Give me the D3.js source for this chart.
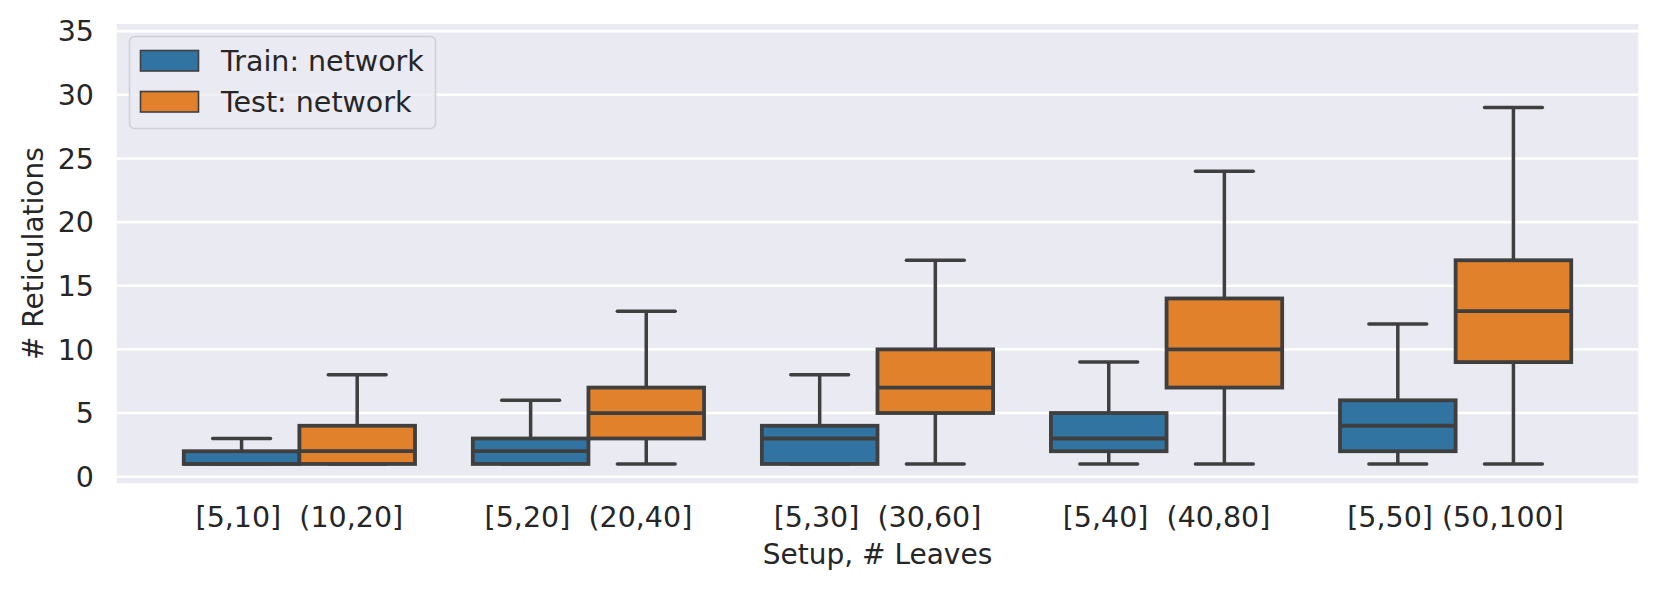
<!DOCTYPE html>
<html>
<head>
<meta charset="utf-8">
<script src="https://cdn.jsdelivr.net/npm/d3@7"></script>
<style>
  body { margin: 0; background: #fff; }
  svg { display: block; font-family: "DejaVu Sans", sans-serif; }
</style>
</head>
<body>
<script>
// groups on the x axis, two boxes each
var setups = ["[5,10]", "[5,20]", "[5,30]", "[5,40]", "[5,50]"];
var testLeaves = ["(10,20]", "(20,40]", "(30,60]", "(40,80]", "(50,100]"];
var series = ["Train: network", "Test: network"];
var colors = ["#3274a1", "#e1812c"];
// [lower whisker, q1, median, q3, upper whisker]
var trainStats = [
  [1, 1, 1, 2, 3],
  [1, 1, 2, 3, 6],
  [1, 1, 3, 4, 8],
  [1, 2, 3, 5, 9],
  [1, 2, 4, 6, 12]
];
var testStats = [
  [1, 1, 2, 4, 8],
  [1, 3, 5, 7, 13],
  [1, 5, 7, 10, 17],
  [1, 7, 10, 14, 24],
  [1, 9, 13, 17, 29]
];
var yTicks = [0, 5, 10, 15, 20, 25, 30, 35];

var W = 1660, H = 592;
var plot = { left: 116.7, right: 1638.3, top: 24, bottom: 483.3 };
var lineColor = "#3f3f3f";

var svg = d3.select("body").append("svg")
  .attr("width", W)
  .attr("height", H);

var x = d3.scaleLinear().domain([-0.632, 4.632]).range([plot.left, plot.right]);
var y = d3.scaleLinear().domain([-0.52, 35.56]).range([plot.bottom, plot.top]);

// background
svg.append("rect")
  .attr("x", plot.left).attr("y", plot.top)
  .attr("width", plot.right - plot.left)
  .attr("height", plot.bottom - plot.top)
  .attr("fill", "#eaeaf2");

// grid
svg.append("g").selectAll("line")
  .data(yTicks).enter().append("line")
  .attr("x1", plot.left).attr("x2", plot.right)
  .attr("y1", d => y(d)).attr("y2", d => y(d))
  .attr("stroke", "#fff").attr("stroke-width", 2.6);

// y axis labels
svg.append("g").selectAll("text")
  .data(yTicks).enter().append("text")
  .attr("x", 94).attr("y", d => y(d))
  .attr("dy", "0.36em")
  .attr("text-anchor", "end")
  .attr("font-size", 28.5)
  .attr("fill", "#262626")
  .text(d => d);

// x tick labels, one string per group
svg.append("g").selectAll("text")
  .data(setups).enter().append("text")
  .attr("x", (d, i) => x(i))
  .attr("y", 527.3)
  .attr("text-anchor", "middle")
  .attr("font-size", 28.5)
  .attr("fill", "#262626")
  .attr("xml:space", "preserve")
  .text((d, i) => d + (i === 4 ? " " : "  ") + testLeaves[i]);

svg.append("text")
  .attr("x", (plot.left + plot.right) / 2).attr("y", 564)
  .attr("text-anchor", "middle")
  .attr("font-size", 28)
  .attr("fill", "#262626")
  .text("Setup, # Leaves");

svg.append("text")
  .attr("transform", "translate(43," + ((plot.top + plot.bottom) / 2) + ") rotate(-90)")
  .attr("text-anchor", "middle")
  .attr("font-size", 28)
  .attr("fill", "#262626")
  .text("# Reticulations");

// boxes
var boxW = 0.4;
var allStats = [trainStats, testStats];
allStats.forEach(function(stats, s) {
  var g = svg.append("g");
  stats.forEach(function(d, i) {
    var cx = i + (s === 0 ? -0.2 : 0.2);
    var x0 = x(cx - boxW / 2), x1 = x(cx + boxW / 2);
    var c0 = x(cx - boxW / 4), c1 = x(cx + boxW / 4);
    // whiskers
    g.append("line")
      .attr("x1", x(cx)).attr("x2", x(cx))
      .attr("y1", y(d[0])).attr("y2", y(d[1]))
      .attr("stroke", lineColor).attr("stroke-width", 3.5);
    g.append("line")
      .attr("x1", x(cx)).attr("x2", x(cx))
      .attr("y1", y(d[3])).attr("y2", y(d[4]))
      .attr("stroke", lineColor).attr("stroke-width", 3.5);
    // caps
    [d[0], d[4]].forEach(function(v) {
      g.append("line")
        .attr("x1", c0).attr("x2", c1)
        .attr("y1", y(v)).attr("y2", y(v))
        .attr("stroke", lineColor).attr("stroke-width", 3.5)
        .attr("stroke-linecap", "round");
    });
    g.append("rect")
      .attr("x", x0).attr("y", y(d[3]))
      .attr("width", x1 - x0)
      .attr("height", y(d[1]) - y(d[3]))
      .attr("fill", colors[s])
      .attr("stroke", lineColor).attr("stroke-width", 3.8);
    g.append("line")
      .attr("x1", x0).attr("x2", x1)
      .attr("y1", y(d[2])).attr("y2", y(d[2]))
      .attr("stroke", lineColor).attr("stroke-width", 3.8);
  });
});

// legend
var lg = svg.append("g");
lg.append("rect")
  .attr("x", 129.5).attr("y", 36.5)
  .attr("width", 306).attr("height", 92)
  .attr("rx", 5)
  .attr("fill", "#eaeaf2").attr("fill-opacity", 0.8)
  .attr("stroke", "#d0d0d6").attr("stroke-width", 1.6);
series.forEach(function(name, i) {
  lg.append("rect")
    .attr("x", 140.5).attr("y", 50.5 + i * 41)
    .attr("width", 58).attr("height", 20.5)
    .attr("fill", colors[i])
    .attr("stroke", lineColor).attr("stroke-width", 1.6);
  lg.append("text")
    .attr("x", 221).attr("y", 60.5 + i * 41)
    .attr("dy", "0.36em")
    .attr("font-size", 28.5)
    .attr("fill", "#262626")
    .text(name);
});
</script>
</body>
</html>
